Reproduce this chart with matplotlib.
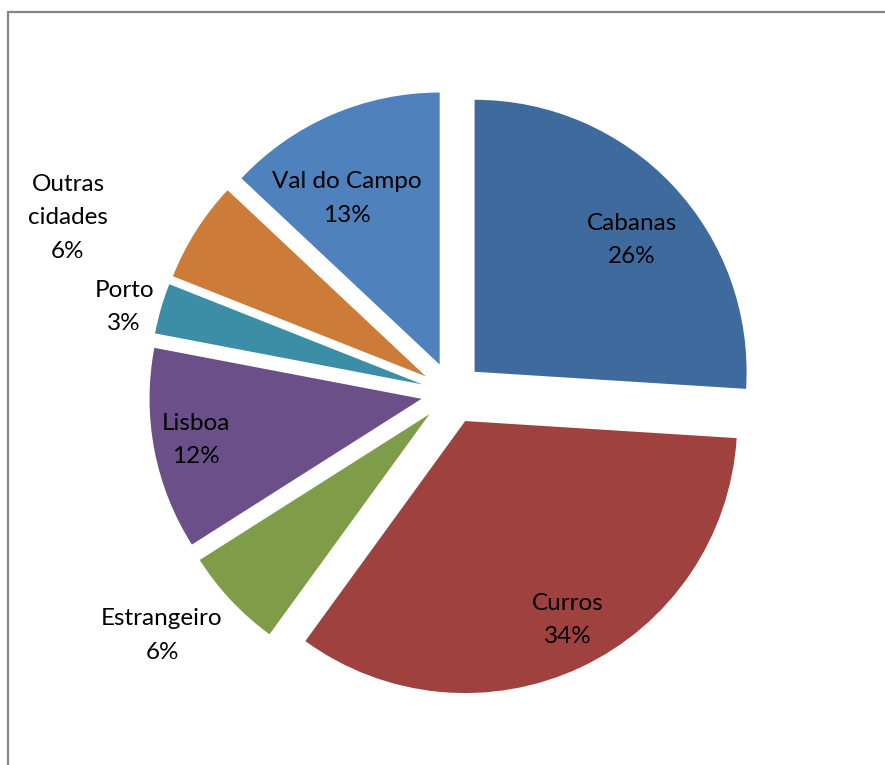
import matplotlib
matplotlib.use("Agg")
import matplotlib.pyplot as plt
import numpy as np

# ---- data ----
categories = ["Cabanas", "Curros", "Estrangeiro", "Lisboa", "Porto", "Outras\ncidades", "Val do Campo"]
values = [26, 34, 6, 12, 3, 6, 13]
colors = ["#3F6A9D", "#9E413F", "#7F9C48", "#6A4F88", "#3B8EA5", "#CC7B38", "#4F81BD"]

# ---- layout (pixels, y measured upward) ----
W, H = 885, 765
center = (452, H - 393)
radius = 272
explode_px = 31
# label placement relative to pie centre: (distance in px, angle tweak in deg, clockwise)
label_layout = [(236, 2.8), (255, -1.9), (378, 3.3), (260, 0.4), (339, -1.5), (422, -7.9), (221, -4.9)]

plt.rcParams['font.family'] = ['Lato', 'DejaVu Sans']

fig = plt.figure(figsize=(W / 100, H / 100), dpi=100)
ax = fig.add_axes([0, 0, 1, 1])

wedges, _ = ax.pie(values, colors=colors, startangle=90, counterclock=False,
                   center=center, radius=radius,
                   explode=[explode_px] * len(values),
                   wedgeprops=dict(linewidth=0))

ax.set_xlim(0, W)
ax.set_ylim(0, H)
ax.set_aspect('equal')
ax.axis('off')

total = sum(values)
for w, cat, v, (dist, dtheta) in zip(wedges, categories, values, label_layout):
    mid = np.deg2rad((w.theta1 + w.theta2) / 2 - dtheta)
    x = center[0] + dist * np.cos(mid)
    y = center[1] + dist * np.sin(mid)
    ax.text(x, y, f"{cat}\n{100 * v / total:.0f}%", ha='center', va='center',
            fontsize=17.5, color='black', linespacing=1.72, multialignment='center')

# chart frame (left and top edges visible)
ax.plot([8, 8, W + 5], [-5, H - 12, H - 12], color='#868686', linewidth=1.6,
        solid_joinstyle='miter', clip_on=False)

fig.savefig("out.png", dpi=100, facecolor='white')
